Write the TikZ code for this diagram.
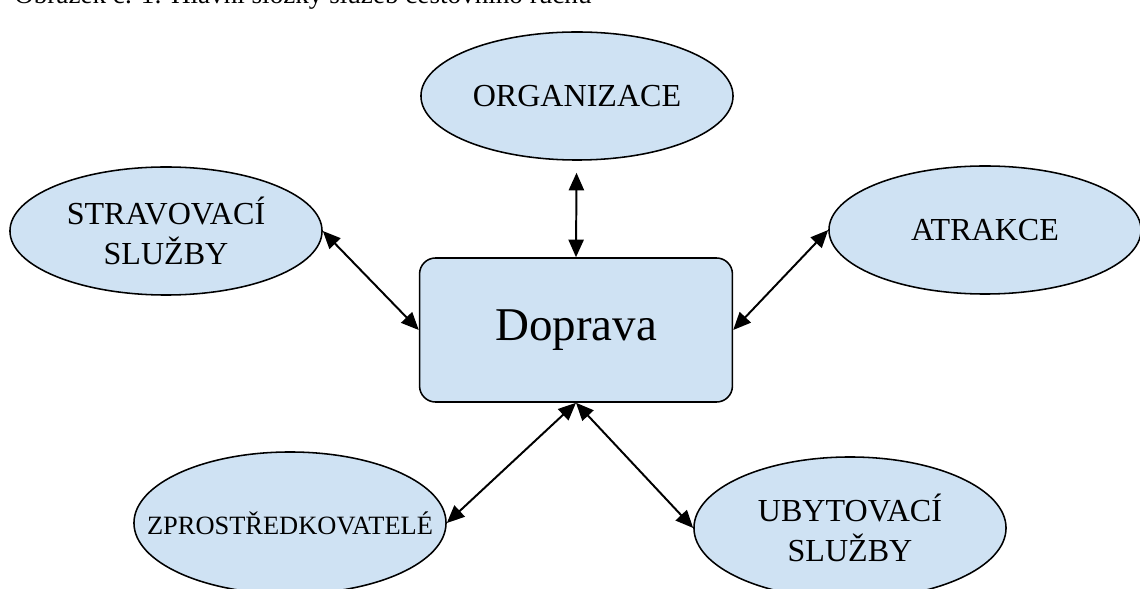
\documentclass[tikz,border=0pt]{standalone}
\usepackage{fontspec}
\setmainfont{Liberation Serif}
\usepackage{tikz}
\usetikzlibrary{arrows.meta,shapes.geometric}
\definecolor{partfill}{RGB}{207,226,243}

\begin{document}
\begin{tikzpicture}[x=0.025cm,y=-0.025cm,
    part/.style={draw,ellipse,fill=partfill,line width=1.1pt,inner sep=0pt,
      minimum width=7.8cm,minimum height=3.2cm,align=center,
      font=\fontsize{22.8}{28.5}\selectfont},
    hub/.style={draw,rectangle,rounded corners=0.4cm,fill=partfill,line width=1.1pt,
      minimum width=7.82cm,minimum height=3.6cm,font=\fontsize{33.4}{40}\selectfont},
    link/.style={{Triangle[length=4.4mm,width=3.8mm]}-{Triangle[length=4.4mm,width=3.8mm]},line width=1.4pt}]
    \useasboundingbox (0,0) rectangle (1140,589);
    \clip (0,0) rectangle (1140,589);
    % caption, cut by the page top
    \node[anchor=base west,inner sep=0pt,font=\fontsize{19.3}{24}\selectfont] (caption) at (14,4)
      {Obrázek č. 1: Hlavní složky služeb cestovního ruchu};
    % centre
    \node[hub] (doprava) at (576,330) {Doprava};
    % parts
    \node[part] (org) at (577,96) {ORGANIZACE};
    \node[part] (strav) at (166,231) {STRAVOVACÍ\\SLUŽBY};
    \node[part] (atr) at (985,230) {ATRAKCE};
    \node[part,minimum height=3.55cm,inner xsep=-0.9cm,font=\fontsize{18.8}{24}\selectfont] (zpro) at (290,523) {ZPROSTŘEDKOVATELÉ};
    \node[part,minimum height=3.55cm] (ubyt) at (850,528) {UBYTOVACÍ\\SLUŽBY};
    % links
    \draw[link,shorten <=0.3cm] (org) -- (doprava.north);
    \draw[link] (strav.east) -- (doprava.west);
    \draw[link] (atr.west) -- (doprava.east);
    \draw[link] (zpro.east) -- (doprava.south);
    \draw[link] (doprava.south) -- (ubyt.west);
\end{tikzpicture}
\end{document}
